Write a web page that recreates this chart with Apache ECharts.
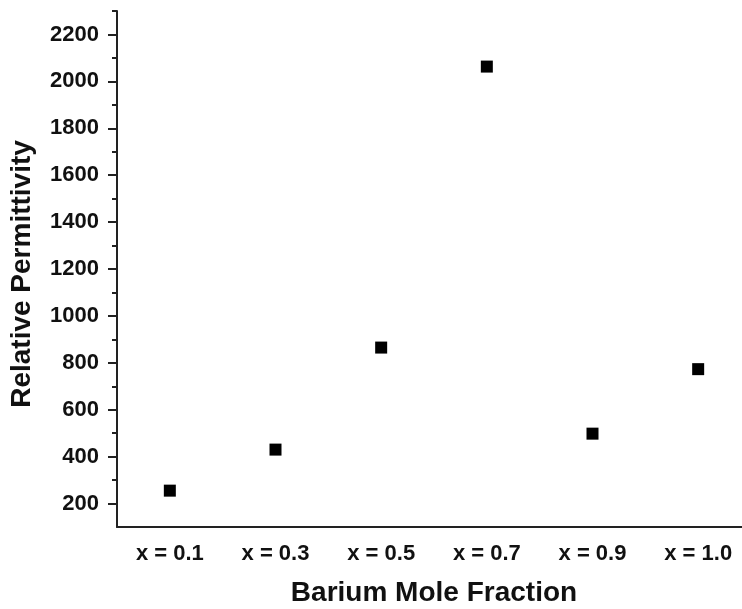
<!DOCTYPE html>
<html>
<head>
<meta charset="utf-8">
<script src="https://cdn.jsdelivr.net/npm/echarts@6/dist/echarts.min.js"></script>
<style>
  html, body { margin: 0; padding: 0; background: #fff; }
  #chart { width: 742px; height: 609px; }
</style>
</head>
<body>
<div id="chart"></div>
<script>
const categories = ['x = 0.1', 'x = 0.3', 'x = 0.5', 'x = 0.7', 'x = 0.9', 'x = 1.0'];
const permittivity = [255, 430, 865, 2063, 498, 773];

// labelled ticks and the shorter in-between ticks on the y axis
const yMajorTicks = [200, 400, 600, 800, 1000, 1200, 1400, 1600, 1800, 2000, 2200];
const yMinorTicks = [300, 500, 700, 900, 1100, 1300, 1500, 1700, 1900, 2100, 2300];

const FONT = '"Liberation Sans", Arial, sans-serif';
const INK = '#111';

const chart = echarts.init(document.getElementById('chart'), null, { renderer: 'canvas' });

chart.setOption({
  animation: false,
  backgroundColor: '#fff',
  // axis runs past the right edge like the original, so don't let v6 shrink the grid
  grid: { left: 117, top: 11, width: 634, height: 516, outerBoundsMode: 'none' },
  xAxis: {
    type: 'category',
    data: categories,
    boundaryGap: true,
    name: 'Barium Mole Fraction',
    nameLocation: 'middle',
    nameGap: 52,
    nameTextStyle: { color: INK, fontFamily: FONT, fontWeight: 'bold', fontSize: 28 },
    axisLine: { lineStyle: { color: '#222', width: 2 } },
    axisTick: { alignWithLabel: true, length: 8, lineStyle: { color: '#222', width: 2 } },
    axisLabel: { color: INK, fontFamily: FONT, fontWeight: 'bold', fontSize: 22, margin: 16, interval: 0 },
    splitLine: { show: false }
  },
  yAxis: [{
    type: 'value',
    position: 'left',
    min: 100,
    max: 2300,
    interval: 100,
    name: 'Relative Permittivity',
    nameLocation: 'middle',
    nameGap: 81,
    nameTextStyle: { color: INK, fontFamily: FONT, fontWeight: 'bold', fontSize: 28, padding: [0, 10, 0, 0] },
    axisLine: { show: true, lineStyle: { color: '#222', width: 2 } },
    axisTick: { show: true, length: 9, customValues: yMajorTicks, lineStyle: { color: '#222', width: 2 } },
    axisLabel: {
      color: INK, fontFamily: FONT, fontWeight: 'bold', fontSize: 22, margin: 18,
      customValues: yMajorTicks,
      formatter: (v) => String(v)
    },
    splitLine: { show: false }
  }, {
    type: 'value',
    position: 'left',
    min: 100,
    max: 2300,
    interval: 100,
    axisLine: { show: false },
    axisTick: { show: true, length: 5, customValues: yMinorTicks, lineStyle: { color: '#222', width: 2 } },
    axisLabel: { show: false },
    splitLine: { show: false }
  }],
  series: [{
    type: 'scatter',
    yAxisIndex: 0,
    symbol: 'rect',
    symbolSize: 12,
    itemStyle: { color: '#000', opacity: 1 },
    data: permittivity
  }]
});
</script>
</body>
</html>
